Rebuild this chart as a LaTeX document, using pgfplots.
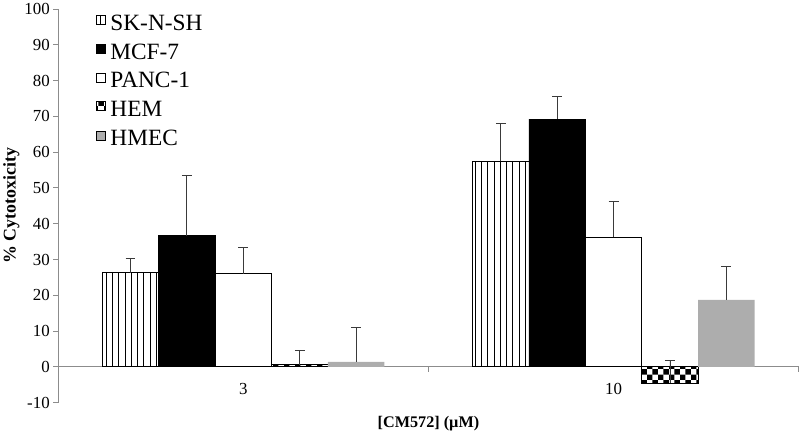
\documentclass[border=0pt]{standalone}
\usepackage{pgfplots}
\pgfplotsset{compat=1.18}
\usetikzlibrary{patterns,patterns.meta}
\usepackage{fontspec}
\setmainfont{Liberation Serif}

\definecolor{axisgray}{HTML}{8C8C8C}
\definecolor{hmecgray}{HTML}{ADADAD}
\definecolor{errgray}{HTML}{3A3A3A}

\tikzdeclarepattern{
  name=checks, type=uncolored,
  bottom left={(0pt,0pt)}, top right={(11pt,11pt)}, tile size={(11pt,11pt)},
  code={\fill (0pt,0pt) rectangle (5.5pt,5.5pt); \fill (5.5pt,5.5pt) rectangle (11pt,11pt);}
}

\newcommand{\tickfont}{\fontsize{17}{19}\selectfont}

\pgfplotsset{
  sqlegend/.style={legend image code/.code={\draw[##1] (0bp,-1bp) rectangle (9bp,8bp);}},
  errs/.style={error bars/.cd, y dir=plus, y explicit,
    error bar style={errgray, line width=0.9pt},
    error mark options={rotate=90, mark size=5bp, errgray, line width=0.9pt}},
}

\begin{document}
\begin{tikzpicture}
\begin{axis}[
  scale only axis, width=743bp, height=395bp,
  ybar=0pt, bar width=56.6bp,
  xmin=-0.5, xmax=1.5, ymin=-10, ymax=100,
  axis x line=middle, axis y line=left,
  axis line style={axisgray, line width=0.9pt, -},
  xtick={-0.5,0.5,1.5}, xticklabels={},
  extra x ticks={0,1}, extra x tick labels={3,10},
  extra x tick style={major tick length=0pt},
  x tick style={axisgray, line width=0.9pt},
  ytick={-10,0,...,100},
  yticklabels={-10,0,10,20,30,40,50,60,70,80,90,100},
  y tick style={axisgray, line width=0.9pt},
  tick align=outside, major tick length=5bp,
  hide obscured x ticks=false, hide obscured y ticks=false,
  xticklabel style={font=\tickfont, yshift=-13bp},
  yticklabel style={font=\tickfont},
  xlabel={\textbf{[CM572] (µM)}},
  xlabel style={at={(axis description cs:0.5,0)}, anchor=north, yshift=-10bp, font=\fontsize{16.3}{18}\selectfont},
  ylabel={\textbf{\% Cytotoxicity}},
  ylabel style={font=\fontsize{18}{20}\selectfont, yshift=-2bp},
  legend cell align=left,
  legend style={draw=none, fill=none, at={(0.047,0.995)}, anchor=north west,
    font=\fontsize{23.5}{26}\selectfont,
    nodes={inner sep=2bp, inner xsep=4.5bp, text height=15bp, text depth=1bp}, row sep=9bp},
]
\addplot[sqlegend, draw=black, line width=0.8pt, pattern={Lines[angle=90,distance=6.3pt,line width=1.1pt]}, pattern color=black, errs]
  coordinates {(0,26.3) +- (0,4.0) (1,57.4) +- (0,10.6)};
\addlegendentry{SK-N-SH}
\addplot[sqlegend, draw=black, line width=0.8pt, fill=black, errs]
  coordinates {(0,36.6) +- (0,16.9) (1,69.2) +- (0,6.4)};
\addlegendentry{MCF-7}
\addplot[sqlegend, draw=black, line width=0.8pt, fill=white, errs]
  coordinates {(0,26.0) +- (0,7.3) (1,36.2) +- (0,9.9)};
\addlegendentry{PANC-1}
\addplot[sqlegend, draw=black, line width=0.8pt, pattern=checks, pattern color=black, errs]
  coordinates {(0,0.6) +- (0,4.0) (1,-4.6) +- (0,6.3)};
\addlegendentry{HEM}
\addplot[sqlegend, draw=none, fill=hmecgray, errs]
  coordinates {(0,1.4) +- (0,9.5) (1,18.7) +- (0,9.3)};
\addlegendentry{HMEC}
\end{axis}
\end{tikzpicture}
\end{document}
